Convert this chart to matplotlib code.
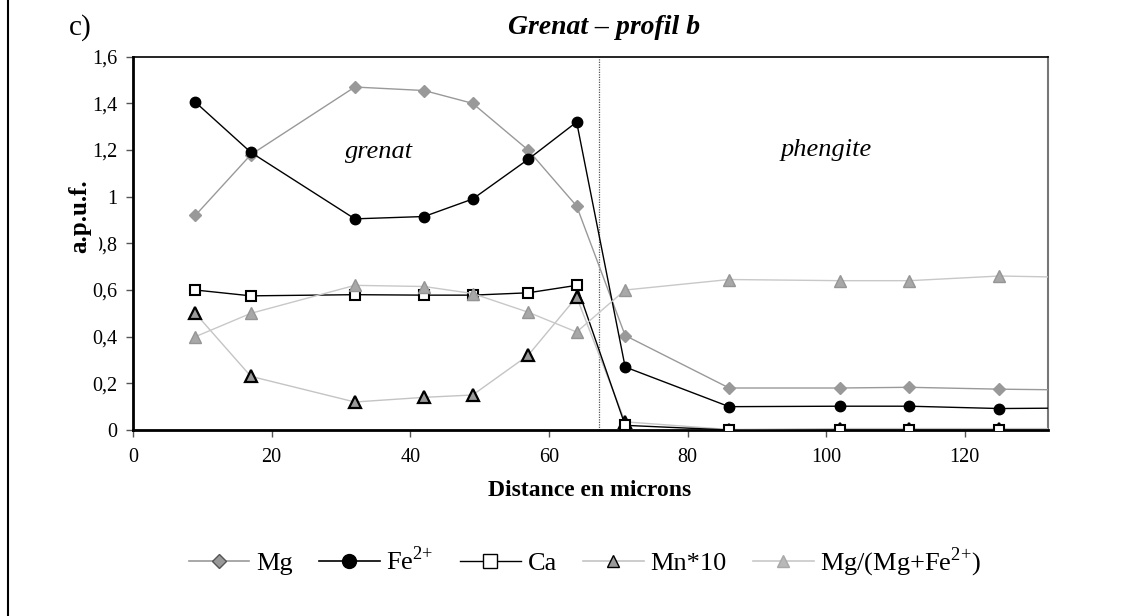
import numpy as np
import matplotlib.pyplot as plt
from matplotlib.lines import Line2D

plt.rcParams['font.family'] = ['Liberation Serif', 'DejaVu Serif']
plt.rcParams['mathtext.fontset'] = 'custom'
plt.rcParams['mathtext.rm'] = 'Liberation Serif'

# profile positions (microns); the last point lies beyond the plotted range
distance = [9, 17, 32, 42, 49, 57, 64, 71, 86, 102, 112, 125, 140]

mg = [0.92, 1.18, 1.47, 1.455, 1.40, 1.20, 0.96, 0.405, 0.18, 0.18, 0.183, 0.175, 0.17]
fe = [1.405, 1.19, 0.905, 0.915, 0.99, 1.16, 1.32, 0.27, 0.10, 0.102, 0.102, 0.092, 0.095]
ca = [0.60, 0.575, 0.58, 0.578, 0.578, 0.588, 0.62, 0.02, 0.0, 0.0, 0.0, 0.0, 0.0]
mn10 = [0.50, 0.23, 0.12, 0.14, 0.15, 0.32, 0.57, 0.035, 0.002, 0.006, 0.006, 0.006, 0.006]
mg_ratio = [0.40, 0.50, 0.62, 0.615, 0.585, 0.505, 0.42, 0.60, 0.645, 0.64, 0.64, 0.66, 0.652]

boundary = 67.2

W, H = 1147, 616
fig = plt.figure(figsize=(W / 100, H / 100), dpi=100)
ax = fig.add_axes([133 / W, 1 - 430 / H, 915 / W, 373.3 / H])

ax.plot(distance, mg, color='#999999', lw=1.0, marker='D', ms=6.5,
        mfc='#999999', mec='#999999', label='Mg', zorder=3)
ax.plot(distance, fe, color='black', lw=1.0, marker='o', ms=7.5,
        mfc='black', mec='black', label='Fe$^{2{+}}$', zorder=4)
ax.plot(distance, mn10, color='#c4c4c4', lw=1.0, marker='^', ms=8,
        mfc='#9a9a9a', mec='black', mew=1.6, label='Mn*10', zorder=5)
ax.plot(distance, ca, color='black', lw=1.0, marker='s', ms=7.5,
        mfc='white', mec='black', mew=1.5, label='Ca', zorder=6)
ax.plot(distance, mg_ratio, color='#c8c8c8', lw=1.0, marker='^', ms=8.5,
        mfc='#a8a8a8', mec='#959595', mew=1.0, label='Mg/(Mg+Fe$^{2{+}}$)', zorder=7)

ax.axvline(boundary, color='#555555', lw=0.9, ls=(0, (1, 1)), zorder=2)

ax.text(35.5, 1.19, 'grenat', style='italic', fontsize=19, ha='center', va='center')
ax.text(100, 1.2, 'phengite', style='italic', fontsize=19, ha='center', va='center')

ax.set_xlim(0, 132)
ax.set_ylim(0, 1.6)
ax.set_xticks(np.arange(0, 121, 20))
yt = np.arange(0, 1.61, 0.2)
ax.set_yticks(yt)
ax.set_yticklabels(['0' if v == 0 else ('1' if abs(v - 1) < 1e-9 else f'{v:.1f}'.replace('.', ','))
                    for v in yt])
ax.tick_params(axis='both', labelsize=14.5, direction='out', length=5, width=1, color='#555555')
ax.tick_params(axis='x', pad=8)
ax.tick_params(axis='y', pad=6)

for side in ['left', 'bottom']:
    ax.spines[side].set_linewidth(2)
    ax.spines[side].set_color('black')
ax.spines['top'].set_linewidth(1.2)
ax.spines['right'].set_linewidth(1.5)
ax.spines['right'].set_color('#777777')

# y label sits in a white box that clips the edge of the 0,8 tick label
fig.text(80 / W, 1 - 216 / H, 'a.p.u.f.', rotation=90, fontsize=18, fontweight='bold',
         ha='center', va='center', zorder=10,
         bbox=dict(facecolor='white', edgecolor='none', boxstyle='square,pad=0.3'))

fig.text(590 / W, 1 - 490 / H, 'Distance en microns', fontsize=17,
         fontweight='bold', ha='center', va='center')
fig.text(604 / W, 1 - 27 / H, 'Grenat – profil b', fontsize=20,
         fontweight='bold', style='italic', ha='center', va='center')
fig.text(80 / W, 1 - 28 / H, 'c)', fontsize=21, ha='center', va='center')

# legend handles drawn Excel-style with the marker centred on a short line
handles = [
    Line2D([], [], color='#999999', lw=1.2, marker='D', ms=7, mfc='#999999', mec='#555555'),
    Line2D([], [], color='black', lw=1.2, marker='o', ms=10, mfc='black', mec='black'),
    Line2D([], [], color='black', lw=1.0, marker='s', ms=10, mfc='white', mec='black'),
    Line2D([], [], color='#c4c4c4', lw=1.2, marker='^', ms=9, mfc='#9a9a9a', mec='black'),
    Line2D([], [], color='#c8c8c8', lw=1.2, marker='^', ms=9, mfc='#b8b8b8', mec='#a8a8a8'),
]
labels = ['Mg', 'Fe$^{2{+}}$', 'Ca', 'Mn*10', 'Mg/(Mg+Fe$^{2{+}}$)']
fig.legend(handles, labels, loc='center', bbox_to_anchor=(585 / W, 1 - 562 / H),
           ncol=5, frameon=False, fontsize=19, handlelength=2.3, handletextpad=0.25,
           columnspacing=1.0, numpoints=1)

# outer frame line at the left edge
fig.add_artist(Line2D([8 / W, 8 / W], [0, 1], color='black', lw=1.5))

fig.savefig('out.png', dpi=100)
